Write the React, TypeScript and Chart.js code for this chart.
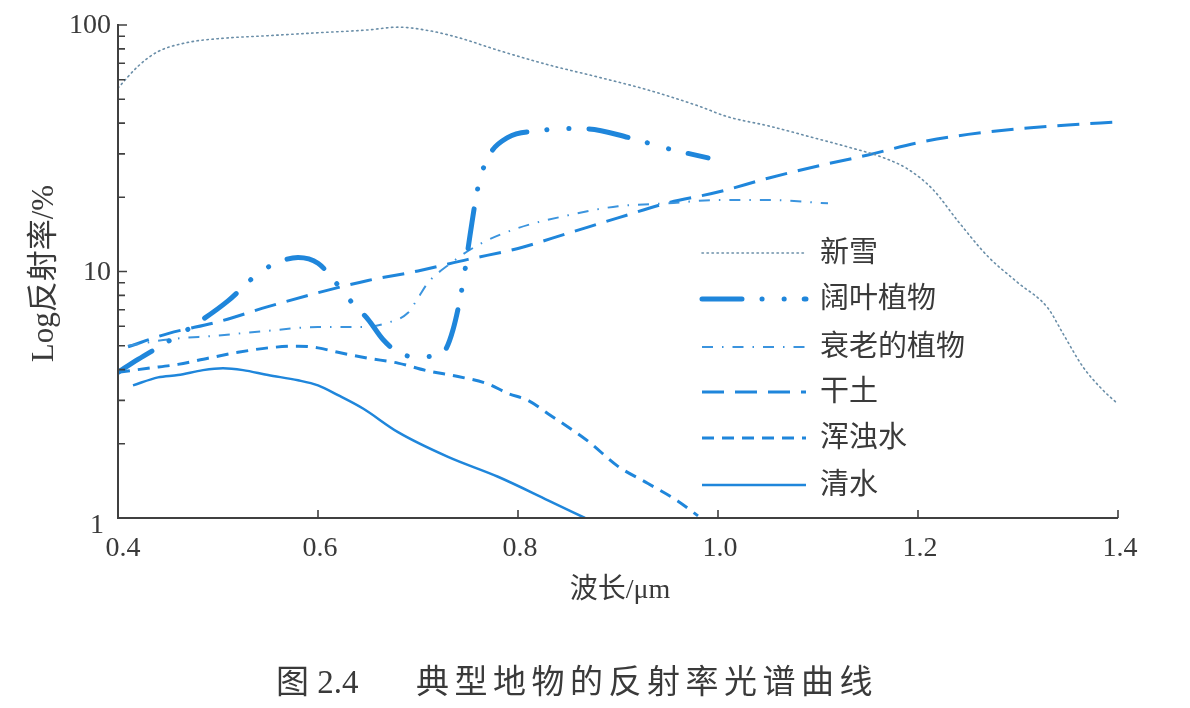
import React, { useEffect, useRef } from "react";
import { Chart, registerables } from "chart.js";

Chart.register(...registerables);

// ---------- data ----------
const snowX = [0.40, 0.42, 0.44, 0.47, 0.50, 0.55, 0.60, 0.65, 0.68, 0.71, 0.74, 0.78, 0.83, 0.88, 0.93, 0.98, 1.01, 1.05, 1.10, 1.13, 1.165, 1.19, 1.215, 1.24, 1.27, 1.30, 1.33, 1.345, 1.365, 1.385, 1.40];
const snowY = [55.5, 68, 78, 85, 88, 90.5, 93, 95.5, 98, 95, 89, 79, 69, 61.5, 54.5, 47, 42.4, 39, 34.5, 32, 29, 26, 21.5, 16, 11.5, 9.0, 7.1, 5.6, 4.1, 3.3, 2.9];

const leafX = [0.40, 0.42, 0.45, 0.48, 0.51, 0.54, 0.56, 0.58, 0.60, 0.62, 0.635, 0.65, 0.665, 0.68, 0.70, 0.725, 0.735, 0.745, 0.752, 0.76, 0.77, 0.79, 0.82, 0.85, 0.87, 0.91, 0.95, 0.99];
const leafY = [3.9, 4.4, 5.2, 6.2, 7.6, 9.8, 10.9, 11.4, 10.8, 8.8, 7.4, 6.4, 5.3, 4.7, 4.5, 4.7, 5.8, 9.0, 14, 22, 29, 35, 37.2, 38, 37.9, 35, 31.5, 28.9];

const oldX = [0.41, 0.45, 0.50, 0.55, 0.60, 0.645, 0.67, 0.69, 0.70, 0.71, 0.73, 0.76, 0.80, 0.85, 0.90, 0.95, 1.00, 1.05, 1.11];
const oldY = [5.0, 5.3, 5.5, 5.75, 5.95, 5.95, 6.2, 6.8, 7.8, 9.0, 10.6, 12.8, 15, 16.9, 18.4, 18.9, 19.5, 19.5, 18.9];

const soilX = [0.41, 0.45, 0.50, 0.55, 0.60, 0.65, 0.70, 0.75, 0.80, 0.85, 0.90, 0.95, 1.00, 1.05, 1.10, 1.15, 1.20, 1.25, 1.30, 1.35, 1.40];
const soilY = [4.95, 5.6, 6.25, 7.2, 8.2, 9.2, 10.05, 11.2, 12.4, 14.3, 16.5, 19, 21, 23.9, 26.8, 29.7, 33.3, 36, 37.9, 39.3, 40.4];

const turbidX = [0.40, 0.43, 0.46, 0.49, 0.52, 0.55, 0.58, 0.60, 0.62, 0.65, 0.68, 0.71, 0.74, 0.77, 0.79, 0.81, 0.83, 0.87, 0.90, 0.93, 0.96, 0.98];
const turbidY = [3.9, 4.05, 4.2, 4.45, 4.7, 4.9, 4.98, 4.9, 4.7, 4.45, 4.25, 3.95, 3.75, 3.5, 3.2, 3.0, 2.65, 2.05, 1.62, 1.38, 1.17, 1.02];

const clearX = [0.415, 0.44, 0.46, 0.485, 0.505, 0.525, 0.55, 0.58, 0.60, 0.62, 0.645, 0.68, 0.73, 0.78, 0.83, 0.867];
const clearY = [3.45, 3.72, 3.8, 3.98, 4.05, 3.98, 3.8, 3.62, 3.45, 3.15, 2.78, 2.23, 1.77, 1.47, 1.18, 1.0];

const seriesNames = ["新雪", "阔叶植物", "衰老的植物", "干土", "浑浊水", "清水"];
const xTicks = [0.4, 0.6, 0.8, 1.0, 1.2, 1.4];
const xTickLabels = ["0.4", "0.6", "0.8", "1.0", "1.2", "1.4"];
const yTicks = [1, 10, 100];
const yTickLabels = ["1", "10", "100"];
const xTitle = "波长/μm";
const yTitle = "Log反射率/%";
const captionNo = "图 2.4";
const captionText = "典型地物的反射率光谱曲线";

// ---------- styles ----------
const BLUE = "#1f86db";
const styles = [
  { color: "#6a8ea8", width: 1.6, dash: [1.4, 3.6], cap: "round" as CanvasLineCap },
  { color: BLUE, width: 5, dash: [40, 20, 0.1, 22, 0.1, 20], cap: "round" as CanvasLineCap },
  { color: "#3b94de", width: 2, dash: [11, 9, 1.5, 9], cap: "butt" as CanvasLineCap },
  { color: BLUE, width: 3, dash: [22, 11], cap: "butt" as CanvasLineCap },
  { color: BLUE, width: 3, dash: [12, 8], cap: "butt" as CanvasLineCap },
  { color: BLUE, width: 2.5, dash: [] as number[], cap: "butt" as CanvasLineCap },
];

const zip = (xs: number[], ys: number[]) => xs.map((x, i) => ({ x, y: ys[i] }));
const allSeries = [
  zip(snowX, snowY),
  zip(leafX, leafY),
  zip(oldX, oldY),
  zip(soilX, soilY),
  zip(turbidX, turbidY),
  zip(clearX, clearY),
];

const SERIF = '"Liberation Serif", "Noto Sans CJK SC", serif';
const TEXT = "#3a3a3a";

const axesPlugin = {
  id: "customAxes",
  afterDraw(chart: any) {
    const { ctx, chartArea: a, scales } = chart;
    const xs = scales.x;
    const ys = scales.y;
    ctx.save();
    ctx.strokeStyle = "#404040";
    ctx.lineWidth = 2;
    ctx.setLineDash([]);
    ctx.beginPath();
    ctx.moveTo(a.left, a.top - 1);
    ctx.lineTo(a.left, a.bottom);
    ctx.lineTo(a.right, a.bottom);
    ctx.stroke();

    // y ticks (inward)
    ctx.lineWidth = 1.6;
    ctx.beginPath();
    for (let k = 0; k < 2; k++) {
      for (let m = 1; m <= 10; m++) {
        const v = m * Math.pow(10, k);
        if (v === 1) continue;
        const py = ys.getPixelForValue(v);
        const len = m === 1 || m === 10 ? 9 : 7;
        ctx.moveTo(a.left, py);
        ctx.lineTo(a.left + len, py);
      }
    }
    // x ticks (inward)
    xTicks.forEach((t) => {
      if (t === xTicks[0]) return;
      const px = xs.getPixelForValue(t);
      ctx.moveTo(px, a.bottom);
      ctx.lineTo(px, a.bottom - 8);
    });
    ctx.stroke();

    // tick labels
    ctx.fillStyle = TEXT;
    ctx.font = `28px ${SERIF}`;
    ctx.textBaseline = "middle";
    yTicks.forEach((t, i) => {
      const py = ys.getPixelForValue(t);
      ctx.textAlign = "right";
      if (t === 1) {
        ctx.fillText(yTickLabels[i], a.left - 14, py + 8);
      } else {
        ctx.fillText(yTickLabels[i], a.left - 7, py + 1);
      }
    });
    ctx.textAlign = "center";
    xTicks.forEach((t, i) => {
      const px = xs.getPixelForValue(t);
      ctx.fillText(xTickLabels[i], px + (i === 0 ? 5 : 2), a.bottom + 31);
    });

    // axis titles
    ctx.font = `28px ${SERIF}`;
    ctx.fillText(xTitle, (a.left + a.right) / 2 + 2, a.bottom + 73);
    ctx.save();
    ctx.translate(45, (a.top + a.bottom) / 2 + 2);
    ctx.rotate(-Math.PI / 2);
    ctx.font = `31px ${SERIF}`;
    ctx.fillText(yTitle, 0, 0);
    ctx.restore();

    // legend
    const lx0 = 702;
    const lx1 = 806;
    const rowY = [253, 299, 347, 392, 438, 485];
    seriesNames.forEach((name, i) => {
      const s = styles[i];
      ctx.save();
      ctx.strokeStyle = s.color;
      ctx.lineWidth = s.width;
      ctx.lineCap = s.cap;
      ctx.setLineDash(s.dash);
      ctx.beginPath();
      ctx.moveTo(lx0, rowY[i]);
      ctx.lineTo(lx1, rowY[i]);
      ctx.stroke();
      ctx.restore();
      ctx.fillStyle = TEXT;
      ctx.font = `29px ${SERIF}`;
      ctx.textAlign = "left";
      ctx.fillText(name, 820, rowY[i] + 1);
    });

    // caption
    ctx.font = `33px ${SERIF}`;
    ctx.textAlign = "left";
    ctx.fillText(captionNo, 276, 684);
    ctx.save();
    (ctx as any).letterSpacing = "5.5px";
    ctx.fillText(captionText, 416, 684);
    ctx.restore();
    ctx.restore();
  },
};

export default function App() {
  const ref = useRef<HTMLCanvasElement | null>(null);
  useEffect(() => {
    if (!ref.current) return;
    const chart = new Chart(ref.current, {
      type: "line",
      data: {
        datasets: allSeries.map((data, i) => ({
          label: seriesNames[i],
          data,
          borderColor: styles[i].color,
          borderWidth: styles[i].width,
          borderDash: styles[i].dash,
          borderCapStyle: styles[i].cap,
          pointRadius: 0,
          fill: false,
          cubicInterpolationMode: "monotone" as const,
        })),
      },
      options: {
        responsive: false,
        animation: false,
        parsing: true,
        layout: { padding: { left: 118, right: 72, top: 25, bottom: 190 } },
        plugins: { legend: { display: false }, tooltip: { enabled: false }, title: { display: false } },
        scales: {
          x: { type: "linear", min: 0.4, max: 1.4, display: false },
          y: { type: "logarithmic", min: 1, max: 100, display: false },
        },
      },
      plugins: [axesPlugin],
    });
    return () => chart.destroy();
  }, []);
  return (
    <div style={{ position: "absolute", left: 0, top: 0, width: 1190, height: 708, background: "#fff" }}>
      <canvas ref={ref} width={1190} height={708} style={{ width: 1190, height: 708 }} />
    </div>
  );
}
